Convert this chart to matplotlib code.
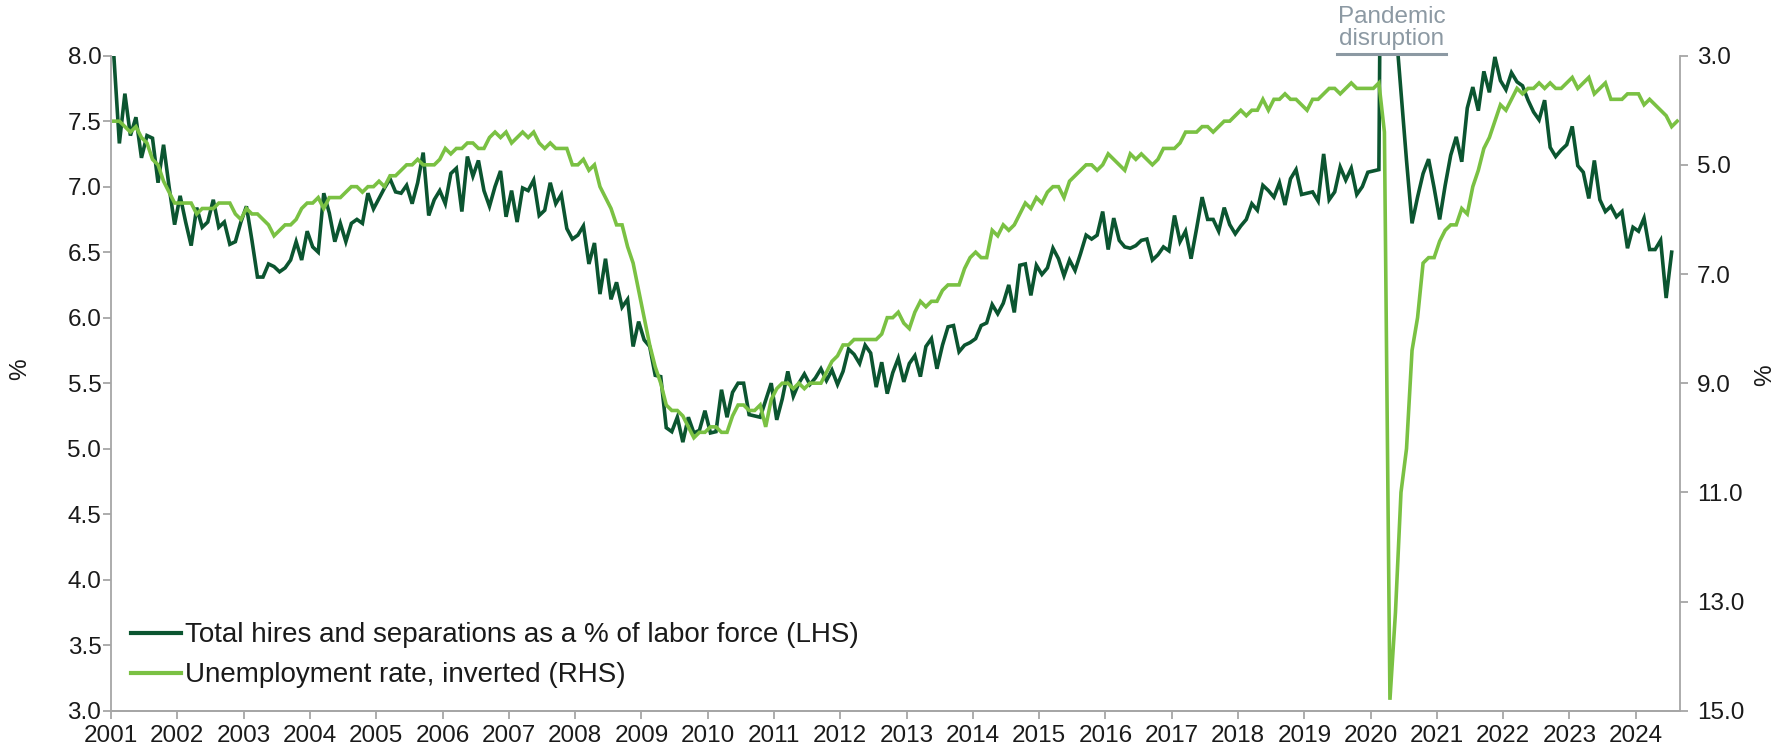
import numpy as np
import matplotlib
matplotlib.use("Agg")
import matplotlib.pyplot as plt
from matplotlib.lines import Line2D

plt.rcParams['font.family'] = ['Liberation Sans', 'DejaVu Sans']

# Monthly data, Jan 2001 onward
start_year = 2001
hires_seps = [
    8.00, 7.33, 7.71, 7.39, 7.53, 7.22, 7.39, 7.37, 7.03, 7.32, 7.00, 6.71,  # 2001
    6.93, 6.73, 6.55, 6.84, 6.69, 6.73, 6.90, 6.69, 6.73, 6.56, 6.58, 6.73,  # 2002
    6.85, 6.59, 6.31, 6.31, 6.41, 6.39, 6.35, 6.38, 6.44, 6.58, 6.44, 6.66,  # 2003
    6.54, 6.50, 6.95, 6.80, 6.58, 6.72, 6.58, 6.72, 6.75, 6.72, 6.95, 6.83,  # 2004
    6.91, 6.99, 7.06, 6.96, 6.95, 7.01, 6.87, 7.03, 7.26, 6.78, 6.90, 6.97,  # 2005
    6.87, 7.10, 7.14, 6.81, 7.23, 7.08, 7.20, 6.97, 6.85, 7.00, 7.12, 6.77,  # 2006
    6.97, 6.73, 6.99, 6.97, 7.05, 6.78, 6.82, 7.03, 6.87, 6.94, 6.68, 6.60,  # 2007
    6.63, 6.70, 6.41, 6.57, 6.18, 6.45, 6.14, 6.27, 6.08, 6.14, 5.78, 5.97,  # 2008
    5.83, 5.78, 5.56, 5.55, 5.16, 5.13, 5.24, 5.05, 5.24, 5.12, 5.14, 5.29,  # 2009
    5.12, 5.13, 5.45, 5.24, 5.43, 5.50, 5.50, 5.26, 5.25, 5.24, 5.37, 5.50,  # 2010
    5.22, 5.38, 5.59, 5.40, 5.50, 5.57, 5.49, 5.54, 5.61, 5.52, 5.60, 5.49,  # 2011
    5.59, 5.76, 5.72, 5.65, 5.79, 5.73, 5.47, 5.66, 5.42, 5.58, 5.69, 5.51,  # 2012
    5.65, 5.71, 5.55, 5.78, 5.84, 5.61, 5.79, 5.93, 5.94, 5.74, 5.79, 5.81,  # 2013
    5.84, 5.94, 5.96, 6.10, 6.03, 6.11, 6.25, 6.04, 6.40, 6.41, 6.17, 6.40,  # 2014
    6.33, 6.38, 6.53, 6.45, 6.32, 6.44, 6.36, 6.49, 6.63, 6.60, 6.63, 6.81,  # 2015
    6.52, 6.76, 6.59, 6.54, 6.53, 6.55, 6.59, 6.60, 6.44, 6.48, 6.54, 6.51,  # 2016
    6.78, 6.58, 6.66, 6.45, 6.68, 6.92, 6.75, 6.75, 6.66, 6.84, 6.71, 6.64,  # 2017
    6.70, 6.75, 6.87, 6.82, 7.01, 6.97, 6.92, 7.03, 6.86, 7.06, 7.13, 6.94,  # 2018
    6.95, 6.96, 6.89, 7.25, 6.90, 6.96, 7.15, 7.05, 7.14, 6.94, 7.00, 7.11,  # 2019
    7.12, 7.13, 13.0, 10.0, 8.25, 7.72, 7.20, 6.72, 6.92, 7.10, 7.21, 6.99,  # 2020
    6.75, 7.01, 7.24, 7.38, 7.19, 7.60, 7.76, 7.58, 7.88, 7.72, 7.99, 7.81,  # 2021
    7.74, 7.87, 7.80, 7.77, 7.66, 7.57, 7.51, 7.66, 7.30, 7.23, 7.28, 7.32,  # 2022
    7.46, 7.16, 7.11, 6.91, 7.20, 6.90, 6.81, 6.85, 6.77, 6.81, 6.53, 6.69,  # 2023
    6.66, 6.76, 6.52, 6.52, 6.59, 6.15, 6.50,                                # 2024
]
unemployment = [
    4.2, 4.2, 4.3, 4.4, 4.3, 4.5, 4.6, 4.9, 5.0, 5.3, 5.5, 5.7,
    5.7, 5.7, 5.7, 5.9, 5.8, 5.8, 5.8, 5.7, 5.7, 5.7, 5.9, 6.0,
    5.8, 5.9, 5.9, 6.0, 6.1, 6.3, 6.2, 6.1, 6.1, 6.0, 5.8, 5.7,
    5.7, 5.6, 5.8, 5.6, 5.6, 5.6, 5.5, 5.4, 5.4, 5.5, 5.4, 5.4,
    5.3, 5.4, 5.2, 5.2, 5.1, 5.0, 5.0, 4.9, 5.0, 5.0, 5.0, 4.9,
    4.7, 4.8, 4.7, 4.7, 4.6, 4.6, 4.7, 4.7, 4.5, 4.4, 4.5, 4.4,
    4.6, 4.5, 4.4, 4.5, 4.4, 4.6, 4.7, 4.6, 4.7, 4.7, 4.7, 5.0,
    5.0, 4.9, 5.1, 5.0, 5.4, 5.6, 5.8, 6.1, 6.1, 6.5, 6.8, 7.3,
    7.8, 8.3, 8.7, 9.0, 9.4, 9.5, 9.5, 9.6, 9.8, 10.0, 9.9, 9.9,
    9.8, 9.8, 9.9, 9.9, 9.6, 9.4, 9.4, 9.5, 9.5, 9.4, 9.8, 9.3,
    9.1, 9.0, 9.0, 9.1, 9.0, 9.1, 9.0, 9.0, 9.0, 8.8, 8.6, 8.5,
    8.3, 8.3, 8.2, 8.2, 8.2, 8.2, 8.2, 8.1, 7.8, 7.8, 7.7, 7.9,
    8.0, 7.7, 7.5, 7.6, 7.5, 7.5, 7.3, 7.2, 7.2, 7.2, 6.9, 6.7,
    6.6, 6.7, 6.7, 6.2, 6.3, 6.1, 6.2, 6.1, 5.9, 5.7, 5.8, 5.6,
    5.7, 5.5, 5.4, 5.4, 5.6, 5.3, 5.2, 5.1, 5.0, 5.0, 5.1, 5.0,
    4.8, 4.9, 5.0, 5.1, 4.8, 4.9, 4.8, 4.9, 5.0, 4.9, 4.7, 4.7,
    4.7, 4.6, 4.4, 4.4, 4.4, 4.3, 4.3, 4.4, 4.3, 4.2, 4.2, 4.1,
    4.0, 4.1, 4.0, 4.0, 3.8, 4.0, 3.8, 3.8, 3.7, 3.8, 3.8, 3.9,
    4.0, 3.8, 3.8, 3.7, 3.6, 3.6, 3.7, 3.6, 3.5, 3.6, 3.6, 3.6,
    3.6, 3.5, 4.4, 14.8, 13.2, 11.0, 10.2, 8.4, 7.8, 6.8, 6.7, 6.7,
    6.4, 6.2, 6.1, 6.1, 5.8, 5.9, 5.4, 5.1, 4.7, 4.5, 4.2, 3.9,
    4.0, 3.8, 3.6, 3.7, 3.6, 3.6, 3.5, 3.6, 3.5, 3.6, 3.6, 3.5,
    3.4, 3.6, 3.5, 3.4, 3.7, 3.6, 3.5, 3.8, 3.8, 3.8, 3.7, 3.7,
    3.7, 3.9, 3.8, 3.9, 4.0, 4.1, 4.3, 4.2,
]
year_labels = [str(y) for y in range(2001, 2025)]
left_ticks = [3.0, 3.5, 4.0, 4.5, 5.0, 5.5, 6.0, 6.5, 7.0, 7.5, 8.0]
right_ticks = [3.0, 5.0, 7.0, 9.0, 11.0, 13.0, 15.0]

DARK = '#0B5530'
LIGHT = '#7AC143'
AXC = '#A6A6A6'
TXT = '#1A1A1A'
ANN = '#8C99A3'
FS = 17.5

fig = plt.figure(figsize=(17.8, 7.52), dpi=100)
ax = fig.add_axes([0.0624, 0.0549, 0.9438 - 0.0624, 0.926 - 0.0549])
ax2 = ax.twinx()

x1 = np.arange(len(hires_seps))
x2 = np.arange(len(unemployment))
ax.plot(x1, hires_seps, color=DARK, lw=2.6, solid_joinstyle='miter')
ax2.plot(x2, unemployment, color=LIGHT, lw=2.6, solid_joinstyle='miter')

ax.set_xlim(-0.5, 283.5)
ax.set_ylim(3.0, 8.0)
ax2.set_ylim(15.0, 3.0)

ax.set_xticks([12 * k - 0.5 for k in range(len(year_labels))])
ax.set_xticklabels(year_labels)
ax.set_yticks(left_ticks)
ax.set_yticklabels([f"{v:.1f}" for v in left_ticks])
ax2.set_yticks(right_ticks)
ax2.set_yticklabels([f"{v:.1f}" for v in right_ticks])

for a in (ax, ax2):
    a.spines['top'].set_visible(False)
    for s in ('left', 'right', 'bottom'):
        a.spines[s].set_color(AXC)
        a.spines[s].set_linewidth(1.3)
    a.tick_params(axis='both', colors=AXC, labelcolor=TXT, labelsize=FS,
                  length=6, width=1.3, direction='out')
ax.tick_params(axis='x', pad=4)
ax.tick_params(axis='y', pad=1)
ax2.tick_params(axis='y', pad=6)
ax2.spines['left'].set_visible(False)
ax.spines['right'].set_visible(False)

fig.text(20.5 / 1780, 1 - 369 / 752, '%', rotation=90, ha='center', va='center',
         fontsize=FS, color=TXT)
fig.text(1765 / 1780, 1 - 375 / 752, '%', rotation=90, ha='center', va='center',
         fontsize=FS, color=TXT)

handles = [Line2D([], [], color=DARK, lw=3),
           Line2D([], [], color=LIGHT, lw=3)]
labels = ['Total hires and separations as a % of labor force (LHS)',
          'Unemployment rate, inverted (RHS)']
ax.legend(handles, labels, loc='lower left', bbox_to_anchor=(-0.003, -0.004),
          frameon=False, fontsize=20, handlelength=1.8, handletextpad=0.12,
          labelspacing=0.5, labelcolor=TXT)

# Pandemic annotation
fig.text(1392 / 1780, 1 - 17 / 752, 'Pandemic', ha='center', va='center',
         fontsize=17.5, color=ANN)
fig.text(1392 / 1780, 1 - 39 / 752, 'disruption', ha='center', va='center',
         fontsize=17.5, color=ANN)
fig.add_artist(Line2D([1337 / 1780, 1446 / 1780], [1 - 53.5 / 752, 1 - 53.5 / 752],
                      color=ANN, lw=2.2, transform=fig.transFigure))

fig.savefig('out.png', dpi=100)
